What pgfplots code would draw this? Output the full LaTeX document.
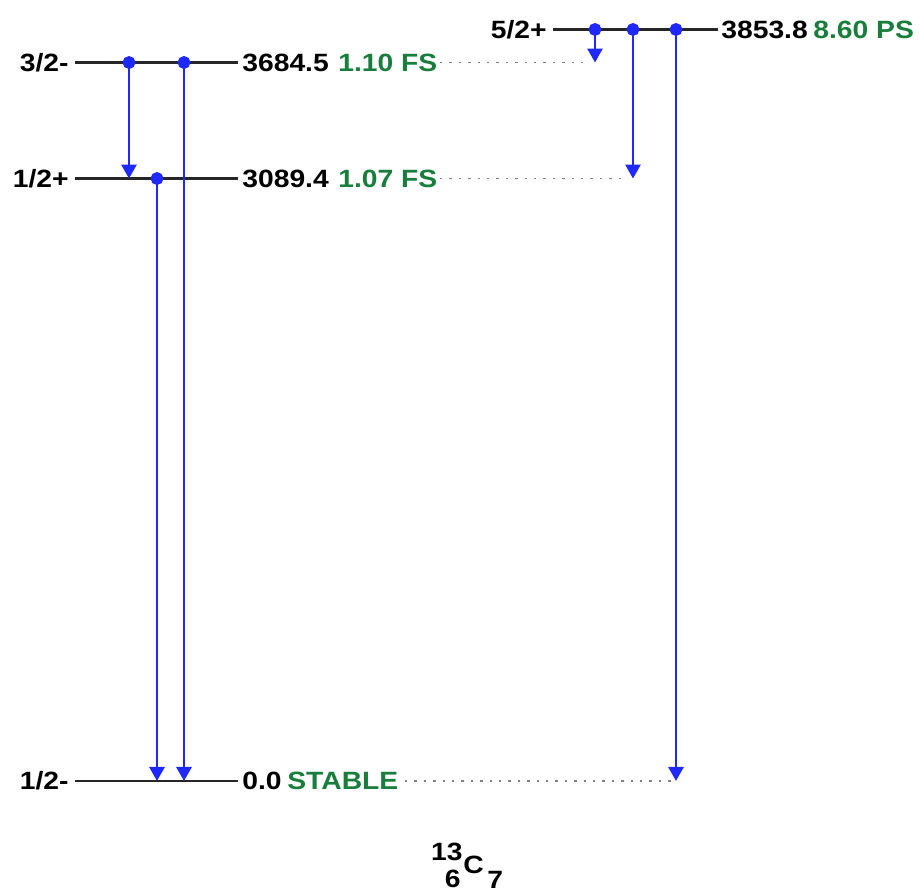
\documentclass[border=0pt]{standalone}
\usepackage{pgfplots}
\pgfplotsset{compat=1.18}
\usetikzlibrary{arrows.meta}
\usepackage{fontspec}
\setmainfont{Liberation Sans}
\newfontfamily\lblfont[FakeStretch=1.13]{Liberation Sans}
\definecolor{lvlgreen}{RGB}{25,125,60}
\definecolor{gblue}{RGB}{30,40,255}
\tikzset{lbl/.style={font=\lblfont\fontsize{12.5}{14}\selectfont\bfseries, inner sep=0pt}}
\begin{document}
\begin{tikzpicture}
\begin{axis}[
  width=460pt, height=446pt, scale only axis,
  xmin=0, xmax=920, ymin=-569.2, ymax=4005.1,
  hide axis, clip=false,
]
% levels
\addplot[black!85, line width=1.1pt] coordinates {(75,3684.5) (238,3684.5)};
\addplot[black!85, line width=1.1pt] coordinates {(75,3089.4) (238,3089.4)};
\addplot[black!85, line width=1.1pt] coordinates {(75,0) (238,0)};
\addplot[black!85, line width=1.1pt] coordinates {(553,3853.8) (718,3853.8)};
% dotted guide lines
\addplot[gray, line width=0.6pt, dash pattern=on 1.2pt off 3.5pt] coordinates {(440,3684.5) (590,3684.5)};
\addplot[gray, line width=0.6pt, dash pattern=on 1.2pt off 3.5pt] coordinates {(440,3089.4) (628,3089.4)};
\addplot[gray, line width=0.6pt, dash pattern=on 1.2pt off 3.5pt] coordinates {(405,0) (672,0)};
% transitions
\pgfplotsset{trans/.style={gblue, line width=1.4pt, -{Triangle[width=7.5pt,length=7pt]}, mark=*, mark size=2.5pt, mark indices={1}, mark options={solid, fill=gblue, draw=gblue}}}
\addplot[trans] coordinates {(129,3684.5) (129,3089.4)};
\addplot[trans] coordinates {(184,3684.5) (184,0)};
\addplot[trans] coordinates {(157,3089.4) (157,0)};
\addplot[trans] coordinates {(595,3853.8) (595,3684.5)};
\addplot[trans] coordinates {(633,3853.8) (633,3089.4)};
\addplot[trans] coordinates {(676,3853.8) (676,0)};
% labels
\node[lbl, anchor=east] at (axis cs:69,3684.5) {3/2-};
\node[lbl, anchor=east] at (axis cs:69,3089.4) {1/2+};
\node[lbl, anchor=east] at (axis cs:69,0) {1/2-};
\node[lbl, anchor=east] at (axis cs:547,3853.8) {5/2+};
\node[lbl, anchor=west] at (axis cs:242,3684.5) {3684.5};
\node[lbl, anchor=west] at (axis cs:242,3089.4) {3089.4};
\node[lbl, anchor=west] at (axis cs:242,0) {0.0};
\node[lbl, anchor=west] at (axis cs:721,3853.8) {3853.8};
\node[lbl, anchor=west, text=lvlgreen] at (axis cs:338,3684.5) {1.10 FS};
\node[lbl, anchor=west, text=lvlgreen] at (axis cs:338,3089.4) {1.07 FS};
\node[lbl, anchor=west, text=lvlgreen] at (axis cs:287,0) {STABLE};
\node[lbl, anchor=west, text=lvlgreen] at (axis cs:813,3853.8) {8.60 PS};
% nuclide
\node[lbl, anchor=east] at (axis cs:463,-364) {13};
\node[lbl, anchor=east] at (axis cs:461,-500) {6};
\node[lbl, anchor=west] at (axis cs:463,-432) {C};
\node[lbl, anchor=west] at (axis cs:487,-506) {7};
\end{axis}
\pgfresetboundingbox
\path (current axis.south west) rectangle (current axis.north east);
\end{tikzpicture}
\end{document}
